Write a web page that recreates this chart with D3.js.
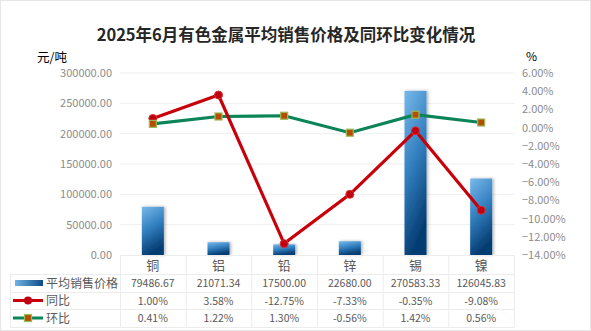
<!DOCTYPE html>
<html><head><meta charset="utf-8">
<script src="https://cdn.jsdelivr.net/npm/d3@7/dist/d3.min.js"></script>
<style>body{margin:0;background:#fff}svg{display:block}</style>
</head><body><svg id="c" width="591" height="331"></svg>
<script>
const categories = ["铜","铝","铅","锌","锡","镍"];
const priceValues = [79486.67, 21071.34, 17500.00, 22680.00, 270583.33, 126045.83];
const priceLabels = ["79486.67","21071.34","17500.00","22680.00","270583.33","126045.83"];
const yoyValues = [1.00, 3.58, -12.75, -7.33, -0.35, -9.08];
const yoyLabels = ["1.00%","3.58%","-12.75%","-7.33%","-0.35%","-9.08%"];
const momValues = [0.41, 1.22, 1.30, -0.56, 1.42, 0.56];
const momLabels = ["0.41%","1.22%","1.30%","-0.56%","1.42%","0.56%"];
const leftTicks = [0,50000,100000,150000,200000,250000,300000];
const rightTicks = [6,4,2,0,-2,-4,-6,-8,-10,-12,-14];
const seriesNames = ["平均销售价格","同比","环比"];

const svg = d3.select("#c");
const font = "'Noto Sans CJK SC','Noto Sans',sans-serif";
const grey = "#595959";
const axisGrey = "#8c8c8c";

const x = d3.scaleBand().domain(categories).range([120,514]);
const yL = d3.scaleLinear().domain([0,300000]).range([255,73]);
const yR = d3.scaleLinear().domain([-14,6]).range([255,73]);

svg.append("rect").attr("x",0.5).attr("y",0.5).attr("width",590).attr("height",330)
  .attr("fill","#fff").attr("stroke","#e6e6e6");

const defs = svg.append("defs");
const g1 = defs.append("linearGradient").attr("id","bg").attr("x1","0").attr("y1","0").attr("x2","0.3").attr("y2","1");
g1.append("stop").attr("offset","0").attr("stop-color","#78b9ea");
g1.append("stop").attr("offset","0.5").attr("stop-color","#3380c0");
g1.append("stop").attr("offset","1").attr("stop-color","#053d73");
const g2 = defs.append("linearGradient").attr("id","bgh").attr("x1","0").attr("y1","0").attr("x2","1").attr("y2","0");
g2.append("stop").attr("offset","0").attr("stop-color","#72b4e6");
g2.append("stop").attr("offset","1").attr("stop-color","#0b4a85");
const f = defs.append("filter").attr("id","sh").attr("x","-30%").attr("y","-10%").attr("width","160%").attr("height","130%");
f.append("feDropShadow").attr("dx",1.5).attr("dy",0).attr("stdDeviation",1.5).attr("flood-color","#000").attr("flood-opacity",0.3);

// title
svg.append("text").attr("x",286).attr("y",41).attr("text-anchor","middle")
  .attr("font-family",font).attr("font-size",16.5).attr("font-weight","bold").attr("fill","#262626")
  .text("2025年6月有色金属平均销售价格及同环比变化情况");
svg.append("text").attr("x",37).attr("y",62).attr("font-family",font).attr("font-size",12.5).attr("fill","#000").text("元/吨");
svg.append("text").attr("x",526).attr("y",61).attr("font-family",font).attr("font-size",12).attr("fill","#000").text("%");

// gridlines
svg.append("g").selectAll("line").data(leftTicks.slice(1)).join("line")
  .attr("x1",120).attr("x2",514).attr("y1",d=>yL(d)).attr("y2",d=>yL(d))
  .attr("stroke","#efefef").attr("stroke-width",1);

// left axis
const la = svg.append("g").attr("transform","translate(120,0)")
  .call(d3.axisLeft(yL).tickValues(leftTicks).tickFormat(d3.format(".2f")).tickSize(0).tickPadding(8));
la.select(".domain").remove();
la.selectAll("text").attr("font-family",font).attr("font-size",11).attr("fill",axisGrey);

// right axis
const ra = svg.append("g").attr("transform","translate(514,0)")
  .call(d3.axisRight(yR).tickValues(rightTicks).tickFormat(d=>d3.format(".2f")(d)+"%").tickSize(0).tickPadding(8));
ra.select(".domain").remove();
ra.selectAll("text").attr("font-family",font).attr("font-size",11).attr("fill",axisGrey);

// bars
const bw = 22;
svg.append("g").selectAll("rect").data(priceValues).join("rect")
  .attr("x",(d,i)=>x(categories[i])+x.bandwidth()/2-bw/2)
  .attr("y",d=>yL(d)).attr("width",bw).attr("height",d=>yL(0)-yL(d))
  .attr("fill","url(#bg)").attr("filter","url(#sh)");

// lines
const cx = i=>x(categories[i])+x.bandwidth()/2;
const line = d3.line().x((d,i)=>cx(i)).y(d=>yR(d));
svg.append("path").datum(momValues).attr("d",line).attr("fill","none").attr("stroke","#0b8457").attr("stroke-width",3.2);
svg.append("path").datum(yoyValues).attr("d",line).attr("fill","none").attr("stroke","#c8000a").attr("stroke-width",3.2);
svg.append("g").selectAll("circle").data(yoyValues).join("circle")
  .attr("cx",(d,i)=>cx(i)).attr("cy",d=>yR(d)).attr("r",4).attr("fill","#c00010").attr("stroke","#d83030").attr("stroke-width",1);
svg.append("g").selectAll("rect").data(momValues).join("rect")
  .attr("x",(d,i)=>cx(i)-3.5).attr("y",d=>yR(d)-3.5).attr("width",7).attr("height",7)
  .attr("fill","#b54e00").attr("stroke","#9bbb59").attr("stroke-width",1.2);

// table
const tb = svg.append("g");
const rowY = [274,292,309,327];
const lc = "#ececec";
tb.append("line").attr("x1",120).attr("x2",514).attr("y1",255.5).attr("y2",255.5).attr("stroke",lc);
rowY.forEach(y=>tb.append("line").attr("x1",10).attr("x2",514).attr("y1",y+0.5).attr("y2",y+0.5).attr("stroke",lc));
const vx = categories.map(c=>x(c)).concat([514]);
vx.forEach(v=>tb.append("line").attr("x1",v+0.5).attr("x2",v+0.5).attr("y1",255).attr("y2",327).attr("stroke",lc));
tb.append("line").attr("x1",10.5).attr("x2",10.5).attr("y1",274).attr("y2",327).attr("stroke",lc);

tb.selectAll("text.cat").data(categories).join("text").attr("class","cat")
  .attr("x",(d)=>x(d)+x.bandwidth()/2).attr("y",270).attr("text-anchor","middle")
  .attr("font-family",font).attr("font-size",13).attr("fill",grey).text(d=>d);

const rowsData = [priceLabels, yoyLabels, momLabels];
rowsData.forEach((arr,r)=>{
  const cy = (rowY[r]+rowY[r+1])/2;
  tb.selectAll("text.r"+r).data(arr).join("text").attr("class","r"+r)
    .attr("x",(d,i)=>cx(i)).attr("y",cy+4).attr("text-anchor","middle")
    .attr("font-family",font).attr("font-size",10.5).attr("fill",grey).text(d=>d);
  tb.append("text").attr("x",46).attr("y",cy+4.5).attr("font-family",font).attr("font-size",12)
    .attr("fill",grey).text(seriesNames[r]);
});
const k1 = (rowY[0]+rowY[1])/2, k2=(rowY[1]+rowY[2])/2, k3=(rowY[2]+rowY[3])/2;
tb.append("rect").attr("x",15).attr("y",k1-3).attr("width",28).attr("height",6).attr("fill","url(#bgh)");
tb.append("line").attr("x1",13).attr("x2",43).attr("y1",k2).attr("y2",k2).attr("stroke","#c8000a").attr("stroke-width",3);
tb.append("circle").attr("cx",28).attr("cy",k2).attr("r",4).attr("fill","#c00010");
tb.append("line").attr("x1",13).attr("x2",43).attr("y1",k3).attr("y2",k3).attr("stroke","#0b8457").attr("stroke-width",3);
tb.append("rect").attr("x",24.5).attr("y",k3-3.5).attr("width",7).attr("height",7).attr("fill","#b54e00").attr("stroke","#9bbb59").attr("stroke-width",1.2);
</script></body></html>
